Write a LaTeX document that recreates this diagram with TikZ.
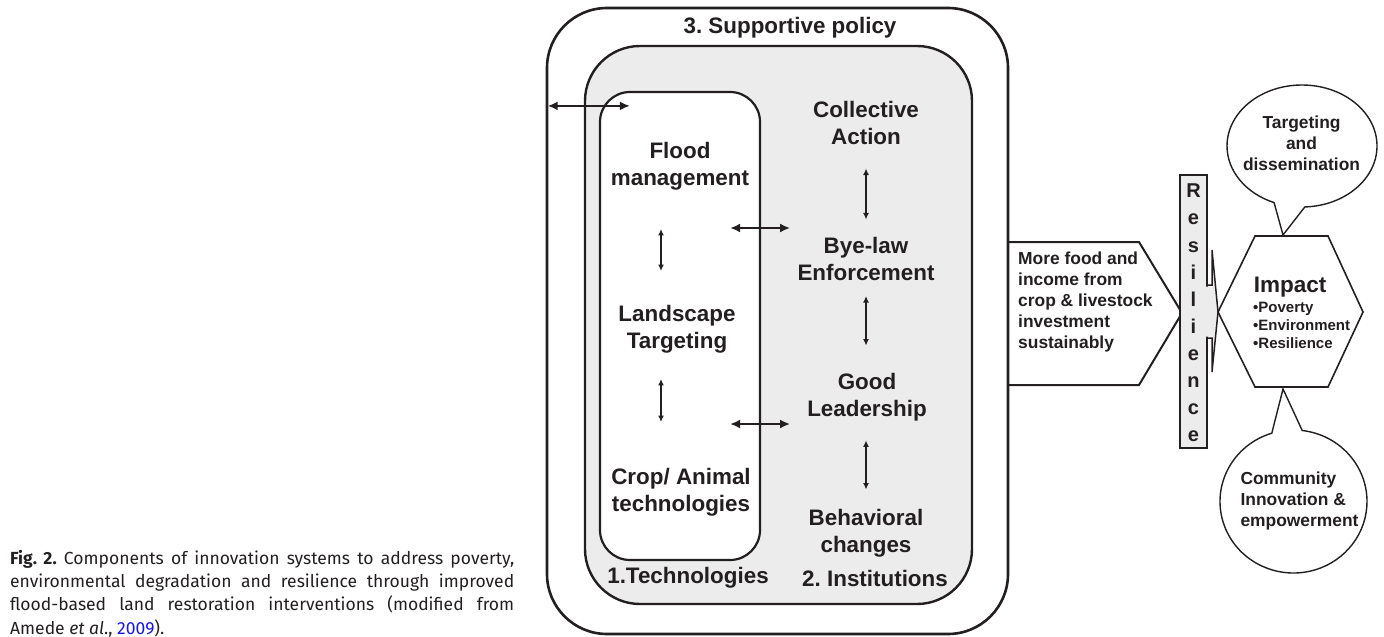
\documentclass[tikz,border=0pt]{standalone}
\usepackage{fontspec}
\setmainfont{Liberation Sans}
\newfontfamily\capfont{Fira Sans}
\usepackage{tikz}
\usetikzlibrary{arrows.meta,shapes.callouts}
\tikzset{>={Latex[length=10pt,width=9pt]}}
\definecolor{panelgray}{RGB}{236,236,236}
\definecolor{inkgray}{RGB}{35,31,32}
\definecolor{citeblue}{RGB}{20,20,235}
\frenchspacing

\begin{document}
\begin{tikzpicture}[x=1pt,y=-1pt,
  every node/.style={font=\bfseries\fontsize{22.4}{27}\selectfont,text=inkgray,align=center,inner sep=0pt},
  frame/.style={draw=inkgray,line width=2.6pt},
  link/.style={<->,draw=inkgray,line width=2pt},
  vlink/.style={{Latex[length=6.5pt,width=6pt]}-{Latex[length=6.5pt,width=6pt]},draw=inkgray,line width=1.5pt},
  smalltext/.style={font=\bfseries\fontsize{17.4}{20.8}\selectfont},
  bubble/.style={ellipse callout,draw=inkgray,line width=1.4pt,callout pointer arc=24},
  bubbletext/.style={font=\bfseries\fontsize{17.4}{20.8}\selectfont}
]
  \useasboundingbox (0,0) rectangle (1384,637);

  % frames
  \node[frame,rounded corners=60pt,minimum width=461pt,minimum height=626pt] (policy) at (777.5,321) {};
  \node[frame,fill=panelgray,line width=2.4pt,rounded corners=55pt,minimum width=387pt,minimum height=558pt] (inst) at (778.5,325) {};
  \node[frame,fill=white,line width=2.2pt,rounded corners=30pt,minimum width=160pt,minimum height=468pt] (tech) at (680,326) {};

  % labels
  \node (title) at (790,28) {3. Supportive policy};
  \node (techlabel) at (688,578) {1.Technologies};
  \node (instlabel) at (875,578) {2. Institutions};

  % technologies
  \node (flood) at (680,166) {Flood\\management};
  \node (landscape) at (677,329) {Landscape\\Targeting};
  \node (crop) at (681,492) {Crop/ Animal\\technologies};

  % institutions
  \node (collective) at (866,123) {Collective\\Action};
  \node (byelaw) at (866,259) {Bye-law\\Enforcement};
  \node (leader) at (867,397) {Good\\Leadership};
  \node (behave) at (866,533) {Behavioral\\changes};

  % links inside the columns
  \draw[vlink,shorten <=38.8pt,shorten >=33.8pt] ([xshift=-19pt]flood.south) -- ([xshift=-16pt]landscape.north);
  \draw[vlink,shorten <=25.8pt,shorten >=45.8pt] ([xshift=-16pt]landscape.south) -- ([xshift=-20pt]crop.north);
  \draw[vlink,shorten <=23.6pt,shorten >=17.6pt] (collective.south) -- (byelaw.north);
  \draw[vlink,shorten <=15.1pt,shorten >=27.3pt] (byelaw.south) -- ([xshift=-1pt]leader.north);
  \draw[vlink,shorten <=19.3pt,shorten >=19.3pt] ([xshift=-1pt]leader.south) -- (behave.north);

  % links between the boxes
  \path (policy.west |- tech.north) coordinate (pin);
  \draw[link] ([xshift=2pt,yshift=-15pt]pin) -- ([xshift=31pt,yshift=-15pt]tech.north west);
  \draw[link] ([xshift=-31pt,yshift=98pt]tech.east) -- ([xshift=29pt,yshift=98pt]tech.east);
  \draw[link] ([xshift=-31pt,yshift=-98pt]tech.east) -- ([xshift=29pt,yshift=-98pt]tech.east);

  % outcome
  \draw[inkgray,line width=2pt,line join=miter] (1008,242) coordinate (gaintop) -- (1139,242) -- (1182,313) coordinate (gaintip) -- (1139,385) -- (1008,385) coordinate (gainbot);
  \node[smalltext,align=left,anchor=west] (gaintext) at (1018,302) {More food and\\income from\\crop \& livestock\\investment\\sustainably};

  % resilience bar
  \node[draw=inkgray,fill=panelgray,line width=1.8pt,minimum width=27pt,minimum height=273pt] (resbar) at (1193.5,311.5) {};
  \node[font=\bfseries\fontsize{20}{27.1}\selectfont] (reslabel) at (1193.5,313) {R\\e\\s\\i\\l\\i\\e\\n\\c\\e};
  \path[fill=panelgray] (1205,286.5) -- (1212,286.5) -- (1212,250) -- (1218,312) -- (1212,372) -- (1212,336.5) -- (1205,336.5) -- cycle;
  \draw[inkgray,line width=1.5pt,line join=miter] (1207,285) -- (1212,285) -- (1212,250) -- (1218,312) -- (1212,372) -- (1212,338) -- (1207,338);

  % impact
  \draw[inkgray,line width=1.6pt,fill=white] (1255,236) -- (1328,236) -- (1363,312) -- (1328,387) -- (1255,387) -- (1218,312) -- cycle;
  \coordinate (hextop) at (1283,235);
  \coordinate (hexbot) at (1283,389);
  \node[font=\bfseries\fontsize{22.5}{26}\selectfont] (impact) at (1290,287) {Impact};
  \node[font=\bfseries\fontsize{15}{18}\selectfont,align=left,anchor=north west] (impactlist) at (1253,301.6) {\textbullet Poverty\\\textbullet Environment\\\textbullet Resilience};

  % callouts
  \node[bubble,minimum width=150pt,minimum height=122pt,callout absolute pointer={(hextop)}] (target) at (1302,146) {};
  \node[bubbletext] (targettext) at (1301.5,143.5) {Targeting\\and\\dissemination};
  \node[bubble,minimum width=147pt,minimum height=143pt,callout absolute pointer={(hexbot)}] (community) at (1293.5,501.5) {};
  \node[bubbletext,align=left] (communitytext) at (1299.5,501) {Community\\Innovation \&\\empowerment};

  % caption
  \node[font=\capfont\fontsize{17.5}{23.3}\selectfont,text width=504pt,align=justify,anchor=north west,text=inkgray] (caption) at (10,550)
    {\textbf{Fig. 2.} Components of innovation systems to address poverty,\linebreak environmental degradation and resilience through improved\linebreak flood-based land restoration interventions (modified from\linebreak Amede \textit{et al}., \textcolor{citeblue}{2009}).};
\end{tikzpicture}
\end{document}
